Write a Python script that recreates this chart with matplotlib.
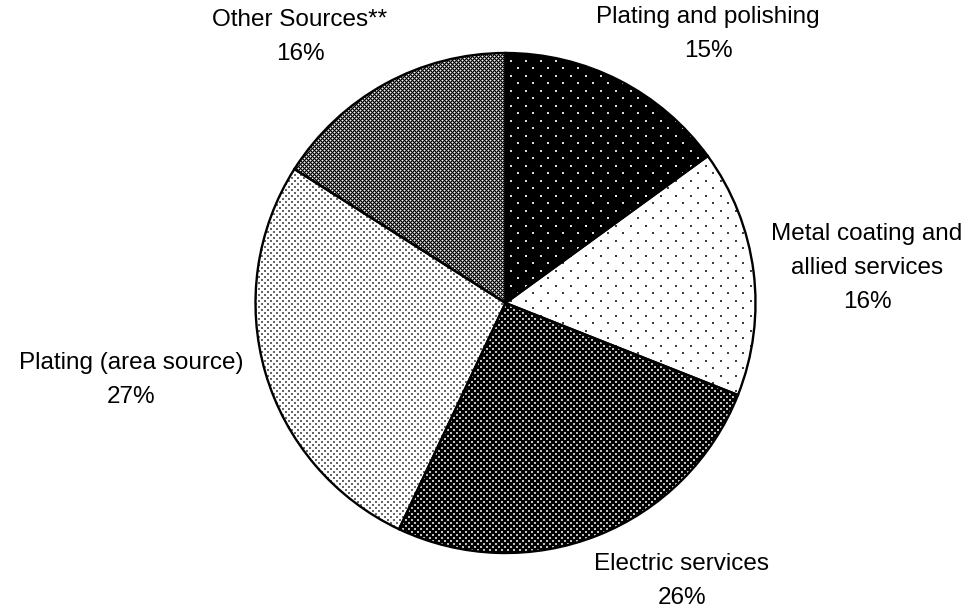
import numpy as np
import matplotlib
matplotlib.use("Agg")
import matplotlib.pyplot as plt

# ---- data ----
categories = ["Plating and polishing", "Metal coating and\nallied services",
              "Electric services", "Plating (area source)", "Other Sources**"]
values = [15, 16, 26, 27, 16]

# ---- layout / style ----
W, H = 976, 610
plt.rcParams['font.family'] = ['Liberation Sans', 'DejaVu Sans']

fig = plt.figure(figsize=(W / 100, H / 100), dpi=100)
ax = fig.add_axes([0, 0, 1, 1])

center = (505.5, 307)
radius = 250

wedges, _ = ax.pie(values, startangle=90, counterclock=False, center=center,
                   radius=radius, colors=['none'] * len(values),
                   wedgeprops=dict(edgecolor='black', linewidth=1.7))
ax.set_xlim(0, W)
ax.set_ylim(0, H)
ax.set_aspect('equal')
ax.axis('off')

# ---- textures ----
yy, xx = np.mgrid[0:H, 0:W]


def dot_lattice(period, dot, bg, fg):
    img = np.full((H, W), bg, dtype=float)
    half = period // 2
    m1 = ((xx % period) < dot) & ((yy % period) < dot)
    m2 = (((xx - half) % period) < dot) & (((yy - half) % period) < dot)
    img[m1 | m2] = fg
    return img


def sparse_dots(bg, fg):
    img = np.full((H, W), bg, dtype=float)
    m1 = ((xx % 15) < 2) & ((yy % 15) < 2)
    m2 = (((xx - 7) % 15) < 2) & (((yy - 7) % 15) < 2)
    img[m1 | m2] = fg
    return img


def crosshatch():
    img = np.full((H, W), 0.45, dtype=float)
    a = (xx + yy) % 4
    b = (xx - yy) % 4
    img[(a == 0) | (b == 0)] = 0.0
    img[(a == 2) & (b == 2)] = 0.95
    return img


textures = [
    sparse_dots(0.0, 0.85),
    sparse_dots(1.0, 0.25),
    dot_lattice(6, 2, 0.0, 0.75),
    dot_lattice(6, 2, 1.0, 0.4),
    crosshatch(),
]

for w, tex in zip(wedges, textures):
    im = ax.imshow(tex, cmap='gray', vmin=0, vmax=1, interpolation='nearest',
                   extent=(0, W, 0, H), origin='upper', zorder=0.5)
    im.set_clip_path(w)
    w.set_zorder(1)

ax.set_xlim(0, W)
ax.set_ylim(0, H)

# ---- labels ----
label_pos = [(708, 576), (867, 342), (682, 29), (131.5, 230), (300, 573)]
for name, val, (lx, ly) in zip(categories, values, label_pos):
    ax.text(lx, ly, f"{name}\n{val}%", ha='center', va='center',
            multialignment='center', fontsize=17.5, linespacing=1.72,
            color='black')

fig.savefig("out.png", dpi=100)
